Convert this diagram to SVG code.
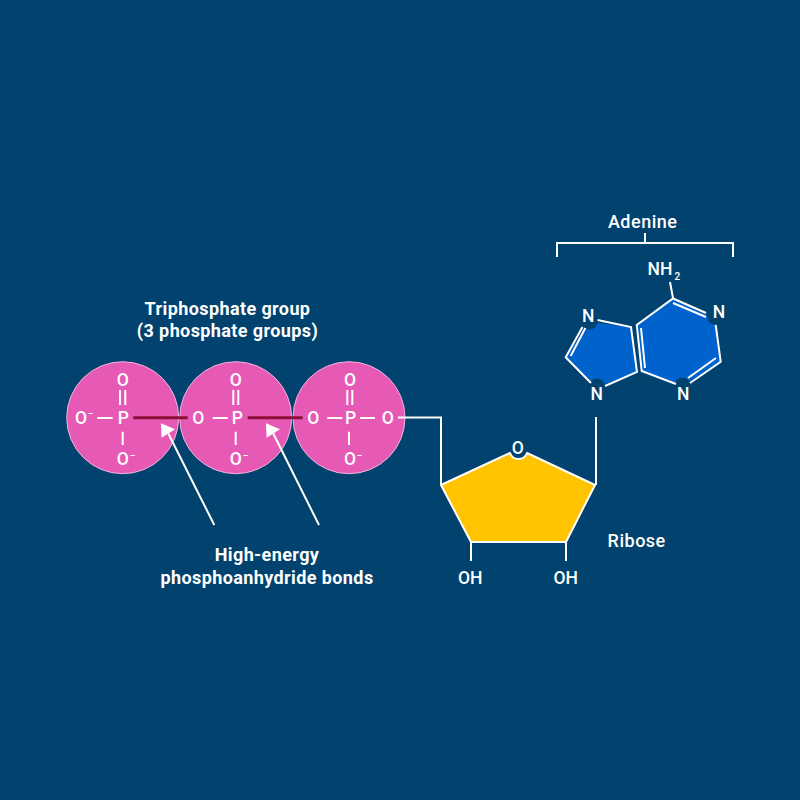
<svg xmlns="http://www.w3.org/2000/svg" width="800" height="800" viewBox="0 0 800 800">
<style>
text{font-family:"Roboto","Liberation Sans",sans-serif;font-weight:500;fill:#fff;text-anchor:middle}
.l{font-size:18px;font-weight:700;letter-spacing:.4px}
.a{font-size:17.500px}
.t{font-size:18px;letter-spacing:.5px}
.s{font-size:10px}
.c{fill:#e65ab5;stroke:#f0b4dc;stroke-width:1}
.w{fill:none;stroke:#fff;stroke-width:2}
.b{fill:none;stroke:#8b0f38;stroke-width:3}
.ring{fill:#0062cc;stroke:none}
.n{fill:#02426e}
</style>
<defs>
<marker id="ah" markerUnits="userSpaceOnUse" markerWidth="24" markerHeight="24" refX="4" refY="12" orient="auto"><path d="M16.400 10L4.760 19.870L3.240 4.130Z" fill="#fff"/></marker>
</defs>
<rect width="800" height="800" fill="#02426e"/>
<g id="phosphate1">
<circle class="c" cx="122.700" cy="417.700" r="56"/>
<text class="a" x="122.700" y="386">O</text><text class="a" x="123.300" y="424">P</text><text class="a" x="81" y="424">O</text><text class="a" x="122.700" y="465">O</text>
<text class="s" x="90.500" y="417">−</text><text class="s" x="132.500" y="459">−</text>
<path class="w" d="M120 390V405M125.300 390V405M97.300 418H112.700M122.700 431.700V445"/>
</g>
<g id="phosphate2">
<circle class="c" cx="235.700" cy="417.700" r="56"/>
<text class="a" x="235.700" y="386">O</text><text class="a" x="237.300" y="424">P</text><text class="a" x="198.300" y="424">O</text><text class="a" x="235.700" y="465">O</text>
<text class="s" x="245.500" y="459">−</text>
<path class="w" d="M233.300 390V405M238.300 390V405M212.700 418H227.700M235.700 431.700V445"/>
</g>
<g id="phosphate3">
<circle class="c" cx="349" cy="417.700" r="56"/>
<text class="a" x="350" y="386">O</text><text class="a" x="350.700" y="424">P</text><text class="a" x="313.300" y="424">O</text><text class="a" x="387.700" y="424">O</text><text class="a" x="350" y="465">O</text>
<text class="s" x="359.500" y="459">−</text>
<path class="w" d="M347.300 390V405M352.300 390V405M327.300 418H342.300M360 418H375M349 431.700V445"/>
</g>
<g id="ribose">
<path d="M441 485L510 453A9 9 0 0 0 527 453L595 485L566 542H471Z" fill="#ffc300" stroke="#fff" stroke-width="2" stroke-linejoin="round"/>
<text class="a" x="517.700" y="454">O</text>
<text class="a" x="470.300" y="584">OH</text><text class="a" x="565.700" y="584">OH</text>
<text class="t" x="636.700" y="547">Ribose</text>
</g>
<g id="adenine">
<path class="ring" d="M673 298L716 320L721 362L682 386L641 371L637 325Z"/>
<path class="ring" d="M589 322L631 327L637 372L597 387L566 357Z"/>
<circle class="n" cx="589.500" cy="321.500" r="8"/><circle class="n" cx="597" cy="386.500" r="8"/><circle class="n" cx="715" cy="316.500" r="8"/><circle class="n" cx="682.500" cy="385.500" r="8"/>
<path class="w" d="M597.500 320L631 327L637 372L605 386M591 383L565.700 357.300L582.500 327M570.700 356L585.300 328"/>
<path class="w" d="M706 313L673 298.500L636.800 325L641.700 371L676 384M715.700 325L720.700 361.700L690 383M673 303L706 317M641 328L645 368M688 378L716 358M670 282L673 298"/>
<text class="a" x="588.300" y="321.500">N</text><text class="a" x="596.700" y="400">N</text><text class="a" x="719" y="318">N</text><text class="a" x="683.300" y="400">N</text>
<text class="a" x="660" y="275">NH</text><text class="s" x="677.300" y="280">2</text>
<text class="t" x="642.700" y="228">Adenine</text>
<path class="w" d="M557 257V243H733V257M645 233V243"/>
</g>
<g id="labels">
<text class="l" x="227.500" y="315">Triphosphate group</text>
<text class="l" x="227.500" y="337">(3 phosphate groups)</text>
<text class="l" x="267" y="561">High-energy</text>
<text class="l" x="267" y="584">phosphoanhydride bonds</text>
</g>
<g id="connectors">
<path class="b" d="M133.300 417.700H187.700M247.700 417.700H302.700"/>
<path class="w" d="M398 417.500H441V485M596 417V485M471 542V561M566 542V561"/>
<path class="w" d="M214.300 525L168.300 433.500" marker-end="url(#ah)"/>
<path class="w" d="M319 525L273.300 433.500" marker-end="url(#ah)"/>
</g>
</svg>
